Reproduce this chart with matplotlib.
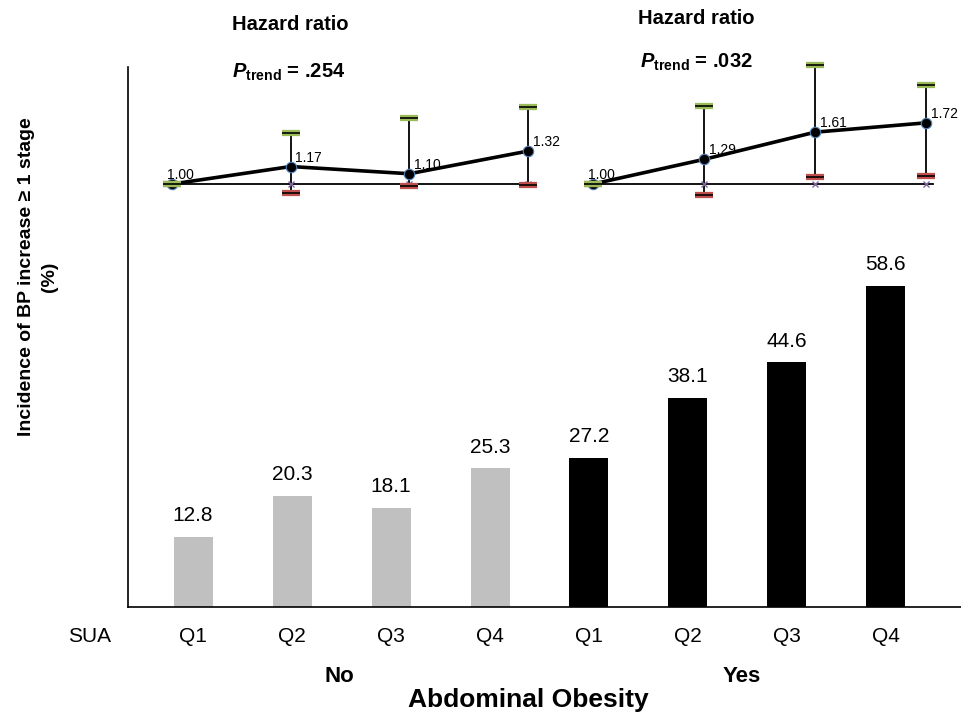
import numpy as np
import matplotlib
matplotlib.use("Agg")
import matplotlib.pyplot as plt

# fuente tipo Helvetica/Arial para todo, incluido el texto matemático del P_trend
plt.rcParams['font.family'] = ['Liberation Sans', 'DejaVu Sans']
plt.rcParams['mathtext.fontset'] = 'custom'
plt.rcParams['mathtext.rm'] = 'Liberation Sans'
plt.rcParams['mathtext.it'] = 'Liberation Sans:italic'
plt.rcParams['mathtext.bf'] = 'Liberation Sans:bold'
plt.rcParams['mathtext.bfit'] = 'Liberation Sans:italic:bold'

# datos de las barras (incidencia en %)
cuartiles = ['Q1', 'Q2', 'Q3', 'Q4', 'Q1', 'Q2', 'Q3', 'Q4']
incidencia_no = [12.8, 20.3, 18.1, 25.3]
incidencia_si = [27.2, 38.1, 44.6, 58.6]

# hazard ratio con sus intervalos
hr_no = [1.00, 1.17, 1.10, 1.32]
hr_no_sup = [1.00, 1.50, 1.64, 1.75]
hr_no_inf = [1.00, 0.91, 0.98, 0.99]
hr_si = [1.00, 1.29, 1.61, 1.72]
hr_si_sup = [1.00, 1.92, 2.40, 2.16]
hr_si_inf = [1.00, 0.87, 1.08, 1.09]
p_no = '.254'
p_si = '.032'

W, H = 961, 715
fig = plt.figure(figsize=(W / 100, H / 100), dpi=100)


def caja(x0, y0, x1, y1):
    # convierte una caja en pixeles (origen arriba a la izquierda) a fracción de figura
    return [x0 / W, (H - y1) / H, (x1 - x0) / W, (y1 - y0) / H]


# --- barras ---
ax = fig.add_axes(caja(128, 67, 961, 607))
x = np.arange(8)
valores = incidencia_no + incidencia_si
colores = ['#c0c0c0'] * 4 + ['black'] * 4
barras = ax.bar(x, valores, width=0.394, color=colores)
ax.bar_label(barras, fmt='%.1f', padding=8.4, fontsize=15)
ax.set_xlim(-0.657, 7.758)
ax.set_ylim(0, 98.5)
ax.set_xticks(x, cuartiles, fontsize=15)
ax.set_yticks([])
ax.tick_params(axis='x', length=0, pad=14.5)
ax.spines['top'].set_visible(False)
ax.spines['right'].set_visible(False)
ax.spines['left'].set_linewidth(1.2)
ax.spines['bottom'].set_linewidth(1.2)

fig.text(90 / W, (H - 636) / H, 'SUA', fontsize=15, ha='center', va='center')
fig.text(339 / W, (H - 676) / H, 'No', fontsize=16, fontweight='bold', ha='center', va='center')
fig.text(742 / W, (H - 676) / H, 'Yes', fontsize=16, fontweight='bold', ha='center', va='center')
fig.text(528 / W, (H - 700) / H, 'Abdominal Obesity', fontsize=19, fontweight='bold',
         ha='center', va='center')
fig.text(38 / W, (H - 277) / H, 'Incidence of BP increase \u2265 1 stage\n(%)', fontsize=14,
         fontweight='bold', rotation=90, ha='center', va='center', multialignment='center',
         linespacing=1.45)


def grafico_hr(rect, xlim, ylim, hr, sup, inf):
    a = fig.add_axes(rect)
    a.set_axis_off()
    a.patch.set_alpha(0)
    a.set_xlim(xlim)
    a.set_ylim(ylim)
    q = np.arange(len(hr))
    a.plot([q[0] - 0.06, q[-1] + 0.06], [1, 1], color='black', lw=1.3, clip_on=False)
    a.vlines(q, inf, sup, color='black', lw=1.3)
    a.plot(q, hr, color='black', lw=2.6, solid_capstyle='round')
    a.plot(q[1:], [1] * (len(q) - 1), 'x', color='#8064a2', ms=5, mew=1)
    a.plot(q, hr, 'o', mfc='black', mec='#4f81bd', ms=7.5, mew=0.8)
    # primero el límite inferior (rojo) y encima el superior (verde)
    for extremos, col in ((inf, '#c0504d'), (sup, '#9bbb59')):
        a.plot(q, extremos, '_', color=col, ms=12.5, mew=4.5, clip_on=False)
        a.plot(q, extremos, '_', color='black', ms=12.5, mew=1.2, clip_on=False)
    for i, v in enumerate(hr):
        dx = -3.6 if i == 0 else 3.4
        a.annotate('%.2f' % v, (q[i], v), xytext=(dx, 6.5), textcoords='offset points',
                   ha='left', va='center', fontsize=10)
    return a


grafico_hr(caja(160, 100, 540, 200), (-0.101, 3.101), (0.845, 1.816), hr_no, hr_no_sup, hr_no_inf)
grafico_hr(caja(580, 55, 940, 200), (-0.117, 3.126), (0.812, 2.518), hr_si, hr_si_sup, hr_si_inf)

fig.text(232 / W, (H - 25) / H, 'Hazard ratio', fontsize=14.5, fontweight='bold', va='center')
fig.text(638 / W, (H - 19) / H, 'Hazard ratio', fontsize=14.5, fontweight='bold', va='center')
fig.text(232 / W, (H - 72) / H, r'$\mathbfit{P}_{\mathbf{trend}}$ = ' + p_no, fontsize=14.5,
         fontweight='bold', va='center')
fig.text(640 / W, (H - 62) / H, r'$\mathbfit{P}_{\mathbf{trend}}$ = ' + p_si, fontsize=14.5,
         fontweight='bold', va='center')

fig.savefig('out.png', dpi=100)
